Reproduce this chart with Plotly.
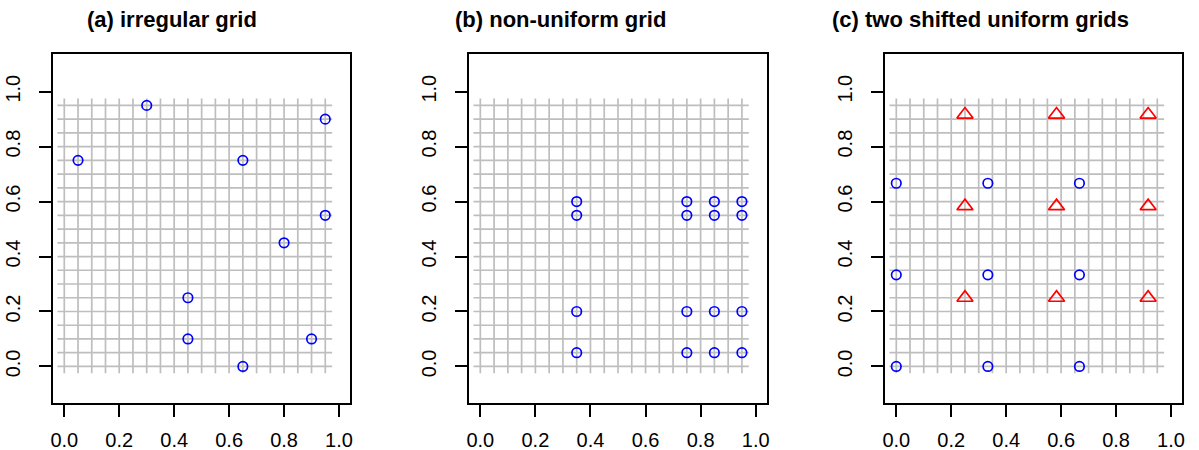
import plotly.graph_objects as go

# Grid lattice positions (every 0.05 from 0 to 0.95)
grid_pos = [0.0, 0.05, 0.1, 0.15, 0.2, 0.25, 0.3, 0.35, 0.4, 0.45,
            0.5, 0.55, 0.6, 0.65, 0.7, 0.75, 0.8, 0.85, 0.9, 0.95]

# (a) irregular grid
a_x = [0.05, 0.30, 0.65, 0.95, 0.95, 0.80, 0.45, 0.45, 0.65, 0.90]
a_y = [0.75, 0.95, 0.75, 0.90, 0.55, 0.45, 0.25, 0.10, 0.00, 0.10]

# (b) non-uniform grid
b_x = [0.35, 0.75, 0.85, 0.95, 0.35, 0.75, 0.85, 0.95,
       0.35, 0.75, 0.85, 0.95, 0.35, 0.75, 0.85, 0.95]
b_y = [0.05, 0.05, 0.05, 0.05, 0.20, 0.20, 0.20, 0.20,
       0.55, 0.55, 0.55, 0.55, 0.60, 0.60, 0.60, 0.60]

# (c) two shifted uniform grids
c1_x = [0.0, 1/3, 2/3, 0.0, 1/3, 2/3, 0.0, 1/3, 2/3]
c1_y = [0.0, 0.0, 0.0, 1/3, 1/3, 1/3, 2/3, 2/3, 2/3]
c2_x = [0.25, 0.5833, 0.9167, 0.25, 0.5833, 0.9167, 0.25, 0.5833, 0.9167]
c2_y = [0.25, 0.25, 0.25, 0.5833, 0.5833, 0.5833, 0.9167, 0.9167, 0.9167]

titles = ["(a) irregular grid", "(b) non-uniform grid", "(c) two shifted uniform grids"]
tick_vals = [0.0, 0.2, 0.4, 0.6, 0.8, 1.0]

W, H = 1199, 450
panel_px = [(53.3, 350.0), (469.3, 766.7), (885.3, 1182.0)]
top_px, bot_px = 54.0, 403.0
title_cx = [172, 560, 980.5]
half = 0.025

FONT = "Liberation Sans, Arial, sans-serif"
BLUE = "#0000FF"
RED = "#FF0000"
GRAY = "#BEBEBE"

fig = go.Figure()


def grid_segments():
    xs, ys = [], []
    for g in grid_pos:
        xs += [g, g, None]
        ys += [-half, grid_pos[-1] + half, None]
    for g in grid_pos:
        xs += [-half, grid_pos[-1] + half, None]
        ys += [g, g, None]
    return xs, ys


panels = [
    [(a_x, a_y, "circle-open", BLUE, 9.5)],
    [(b_x, b_y, "circle-open", BLUE, 9.5)],
    [(c1_x, c1_y, "circle-open", BLUE, 9.5), (c2_x, c2_y, "triangle-up-open", RED, 14)],
]

for i, series in enumerate(panels):
    ax = "" if i == 0 else str(i + 1)
    gx, gy = grid_segments()
    fig.add_trace(go.Scatter(x=gx, y=gy, mode="lines",
                             line=dict(color=GRAY, width=1.7),
                             xaxis="x" + ax, yaxis="y" + ax,
                             hoverinfo="skip", showlegend=False))
    for (sx, sy, sym, col, sz) in series:
        fig.add_trace(go.Scatter(x=sx, y=sy, mode="markers",
                                 marker=dict(symbol=sym, size=sz, color=col,
                                             line=dict(color=col, width=1.7)),
                                 xaxis="x" + ax, yaxis="y" + ax,
                                 showlegend=False))

    x0, x1 = panel_px[i]
    axis_common = dict(
        showgrid=False, zeroline=False, automargin=False,
        showline=True, mirror=True, linecolor="black", linewidth=1.5,
        ticks="outside", tickcolor="black", tickwidth=1.5,
        tickvals=tick_vals, tickformat=".1f",
        tickfont=dict(family=FONT, size=20, color="black"),
    )
    fig.layout["xaxis" + ax] = dict(
        axis_common, domain=[x0 / W, x1 / W], range=[-0.04, 1.04],
        anchor="y" + ax, ticklen=12, ticklabelstandoff=6,
    )
    fig.layout["yaxis" + ax] = dict(
        axis_common, domain=[1 - bot_px / H, 1 - top_px / H], range=[-0.133, 1.137],
        anchor="x" + ax, ticklen=13, tickangle=-90, ticklabelstandoff=11,
    )
    fig.add_annotation(text="<b>" + titles[i] + "</b>", xref="paper", yref="paper",
                       x=title_cx[i] / W, y=1 - 20 / H, xanchor="center", yanchor="middle",
                       showarrow=False, font=dict(family=FONT, size=22, color="black"))

fig.update_layout(width=W, height=H, margin=dict(l=0, r=0, t=0, b=0),
                  plot_bgcolor="white", paper_bgcolor="white")

fig.write_html("out.html")
